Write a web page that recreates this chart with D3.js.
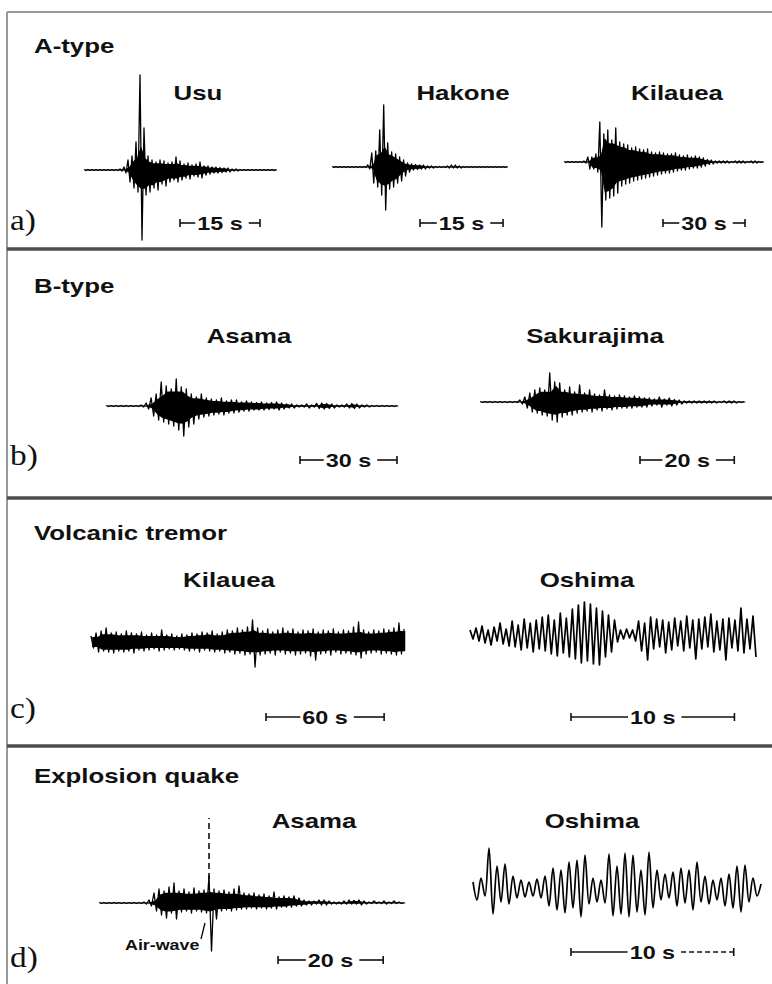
<!DOCTYPE html>
<html>
<head>
<meta charset="utf-8">
<script src="https://cdn.jsdelivr.net/npm/d3@7"></script>
<style>
  body { margin: 0; background: #fff; }
  text { font-family: "Liberation Sans", Arial, sans-serif; fill: #111; }
</style>
</head>
<body>
<div id="chart"></div>
<script>
// ---- data ----
var panelTitles = ["A-type", "B-type", "Volcanic tremor", "Explosion quake"];
var panelLetters = ["a)", "b)", "c)", "d)"];
var stations = ["Usu", "Hakone", "Kilauea", "Asama", "Sakurajima", "Kilauea", "Oshima", "Asama", "Oshima"];
var recordSeconds = [36, 31.6, 72.8, 90, 56, 159, 17.5, 58, 17.7];
var barSeconds = [15, 15, 30, 30, 20, 60, 10, 20, 10];
var barLabels = ["15 s", "15 s", "30 s", "30 s", "20 s", "60 s", "10 s", "20 s", "10 s"];

// envelope amplitudes (up / down) at even time steps
var usuUp = [.5,.5,.5,.5,.5,.5,.5,.5,.5,1,3,10,14,28,95,42,14,10,8,10,9,7,8,13,9,6,7,5,6,8,4,4,3,3,2.5,2,2,1,1,.5,.5,.5,.5,.5,.5,.5,.5,.5,.5];
var usuDown = [.5,.5,.5,.5,.5,.5,.5,.5,.5,1,3,12,18,22,70,25,22,18,20,14,16,12,10,12,10,8,9,6,7,8,5,4,3,3,2.5,2,2,1,1,.5,.5,.5,.5,.5,.5,.5,.5,.5,.5];

var hakoneUp = [.5,.5,.5,.5,.5,.5,.5,.5,.5,2,14,16,37,62,24,15,13,10,7,4,3,2.5,2,2,1,1,.5,.5,.5,1,2,2,1,.5,.5,.5,.5,.5,.5,.5,.5,.5,.5,.5,.5];
var hakoneDown = [.5,.5,.5,.5,.5,.5,.5,.5,.5,2,16,20,28,43,22,20,16,14,9,5,3,2.5,2,2,1,1,.5,.5,.5,1,1,1,1,.5,.5,.5,.5,.5,.5,.5,.5,.5,.5,.5,.5];

var kilaueaAUp = [.5,.5,.5,.5,.5,1,5,5,8,40,28,32,22,34,20,18,17,14,15,13,12,13,10,9,10,9,8,8,9,7,6,7,5,6,5,4,2.5,2,1,1,1,1,.5,1,1,1,.5,1,1,.5,.5];
var kilaueaADown = [.5,.5,.5,.5,.5,1,7,7,10,65,38,36,34,31,24,22,21,19,18,17,16,15,14,13,12,11,11,10,9,8,8,7,6,6,5,4,2.5,2,1,1,1,1,.5,1,1,1,.5,1,1,.5,.5];

var asamaBUp = [.5,.5,.5,.5,.5,.5,.5,1,3,8,12,24,20,17,27,19,17,12,9,12,8,7,6,8,5,6,6,4,5,4,3.5,4,3,3.5,4,3,2,2,1,1,2,1,2.5,3,2.5,2,1,1,2,2.5,2,1,1,.5,.5,.5,.5,.5,.5];
var asamaBDown = [.5,.5,.5,.5,.5,.5,.5,1,3,10,14,16,18,20,24,30,21,18,13,11,10,9,8,9,7,7,6,5,5,4,4,4,3.5,3,4,3,2,2,1,1,2,1,2.5,3,2.5,2,1,1,2,2.5,2,1,1,.5,.5,.5,.5,.5,.5];

var sakuraUp = [.5,.5,.5,.5,.5,.5,.5,.5,2,5,9,12,14,12,29,20,19,12,15,10,17,9,12,8,7,12,7,6,7,6,5,6,5,4,4,3,5,3,4,2.5,2,1,1,1,1,1,1,1,.5,1,1,1,.5,.5];
var sakuraDown = [.5,.5,.5,.5,.5,.5,.5,.5,2,6,10,11,13,14,18,20,15,13,13,11,10,9,10,8,9,7,8,7,6,6,6,5,5,5,4,3,5,3,4,3,2,1,1,1,1,1,1,1,.5,1,1,1,.5,.5];

var tremorUp = [6,9,11,14,9,10,8,11,9,8,10,7,9,7,12,7,8,6,8,7,9,8,10,9,11,8,10,12,11,14,12,15,22,14,11,13,10,12,14,11,13,10,12,11,13,10,12,11,13,10,12,11,15,20,12,10,12,11,13,12,14,19,13];
var tremorDown = [6,10,9,10,11,9,10,9,11,8,9,8,7,9,8,7,8,7,8,9,8,10,8,9,10,9,11,10,12,11,13,12,25,13,12,11,13,10,12,11,13,12,11,14,18,12,11,13,10,12,11,12,13,16,12,11,10,12,11,12,13,12,11];

var asamaDUp = [.5,.5,.5,.5,.5,.5,.5,.5,.5,1,3,10,14,12,16,20,12,14,11,15,12,13,27,14,12,13,11,14,17,10,9,10,8,9,7,11,6,7,6,7,5,3,2,2,3,3,2,1,1,2,3,2.5,3,2,1,2,1,2,1,2,1,.5];
var asamaDDown = [.5,.5,.5,.5,.5,.5,.5,.5,.5,1,3,8,12,15,10,16,9,8,10,8,9,10,48,16,8,7,8,7,6,6,5,6,5,6,5,6,4,4,4,3,3,2,2,1,2,2,1,1,1,1,1,1,2,1,.5,.5,.5,1,.5,.5,.5,.5];
var asamaAirSpike = 85;

// successive peaks of the clearly resolved Oshima records
var oshimaTremor = [5,-4,7,-6,9,-8,5,-10,8,-6, 12,-9,6,-11,
  14,-12,10,-15,16,-13,12,-17,15,-14, 18,-16,20,-19,15,-21,22,-18,17,-22,
  26,-24,30,-28,33,-26,31,-29,27,-30,24, -22,20,-17,15, -7,5,-4,6,-3,5,-6,
  14,-16,12,-25,18,-14,16,-12,15,-18, 13,-15,17,-11,14,-16,19,-13,15,-24,
  16,-14,18,-12,21,-17,14,-15,16,-25, 17,-13,15,-16,27,-18,16,-14,19,-22];
var oshimaQuake = [6,-12,10,-8,40,-26,22,-14,24,-16,12,-10,8,-9,6,-8,9,-10,12,-18,
  20,-22,18,-25,26,-20,28,-29,33,-16,10,-14,8,-15,34,-28,22,-26,35,-29,
  33,-24,18,-27,36,-20,18,-12,14,-10,16,-18,20,-15,18,-22,26,-14,12,-16,
  8,-12,10,-18,14,-20,22,-24,23,-14,10,-8,4];

// ---- layout ----
var W = 772, H = 984;
var frameX = 7, frameY = 12;
var separators = [249, 498, 746];
var titleY = [53, 293, 540, 783];
var letterY = [230, 465, 718, 967];

var traces = [
  {up: usuUp, down: usuDown, x0: 84, x1: 276, base: 170, lx: 198, ly: 100, bx: 180, by: 223},
  {up: hakoneUp, down: hakoneDown, x0: 332, x1: 507, base: 167, lx: 463, ly: 100, bx: 420, by: 223},
  {up: kilaueaAUp, down: kilaueaADown, x0: 564, x1: 763, base: 162, lx: 677, ly: 100, bx: 663, by: 223},
  {up: asamaBUp, down: asamaBDown, x0: 106, x1: 397, base: 406, lx: 249, ly: 343, bx: 300, by: 460},
  {up: sakuraUp, down: sakuraDown, x0: 480, x1: 744, base: 402, lx: 595, ly: 343, bx: 640, by: 460},
  {up: tremorUp, down: tremorDown, x0: 91, x1: 404, base: 642, lx: 229, ly: 587, bx: 266, by: 717},
  {peaks: oshimaTremor, x0: 470, x1: 756, base: 635, lx: 587, ly: 587, bx: 571, by: 717, width: 1.7},
  {up: asamaDUp, down: asamaDDown, x0: 99, x1: 404, base: 903, lx: 314, ly: 828, bx: 278, by: 960},
  {peaks: oshimaQuake, x0: 473, x1: 761, base: 888, lx: 592, ly: 828, bx: 571, by: 952, width: 1.7,
   smooth: true, dashedEnd: true}
];
var stretch = 1.23;

var svg = d3.select("#chart").append("svg")
  .attr("width", W)
  .attr("height", H);

// frame and panel separators
svg.append("line").attr("x1", frameX).attr("x2", W).attr("y1", frameY).attr("y2", frameY)
  .attr("stroke", "#999").attr("stroke-width", 2);
svg.append("line").attr("x1", frameX).attr("x2", frameX).attr("y1", frameY).attr("y2", H)
  .attr("stroke", "#999").attr("stroke-width", 2);
svg.selectAll(".sep").data(separators).enter().append("line")
  .attr("x1", frameX).attr("x2", W)
  .attr("y1", d => d).attr("y2", d => d)
  .attr("stroke", "#4d4d4d").attr("stroke-width", 3.5);

function wideText(x, y, str, size, anchor) {
  return svg.append("text")
    .attr("transform", "translate(" + x + "," + y + ") scale(" + stretch + ",1)")
    .style("font-size", size + "px")
    .style("font-weight", "bold")
    .style("text-anchor", anchor || "start")
    .text(str);
}

panelTitles.forEach((t, i) => wideText(34, titleY[i], t, 21));

svg.selectAll(".letter").data(panelLetters).enter().append("text")
  .attr("transform", (d, i) => "translate(10," + letterY[i] + ") scale(1.15,1)")
  .style("font-family", "'Liberation Serif', 'Times New Roman', serif")
  .style("font-size", "29px")
  .text(d => d);

traces.forEach((tr, k) => {
  var x = d3.scaleLinear().domain([0, recordSeconds[k]]).range([tr.x0, tr.x1]);
  var y = d3.scaleLinear().domain([-1, 1]).range([tr.base + 1, tr.base - 1]);
  var pts = [];
  var line = d3.line().curve(tr.smooth ? d3.curveCatmullRom.alpha(0.5) : d3.curveLinear);
  if (tr.peaks) {
    var step = recordSeconds[k] / (tr.peaks.length - 1);
    tr.peaks.forEach((v, i) => pts.push([x(i * step), y(v)]));
  } else {
    var n = tr.up.length, dt = recordSeconds[k] / (n - 1);
    tr.up.forEach((u, i) => {
      pts.push([x(i * dt), y(u)]);
      if (i < n - 1) pts.push([x(i * dt + dt / 2), y(-tr.down[i])]);
    });
    // solid core of the dense record, kept inside neighbouring peaks
    var core = tr.up.map((u, i) => {
      var a = Math.max(0, i - 1), b = Math.min(n, i + 2);
      return {t: i * dt + dt / 4, hi: d3.min(tr.up.slice(a, b)), lo: d3.min(tr.down.slice(a, b))};
    });
    svg.append("path")
      .attr("d", d3.area().x(d => x(d.t)).y0(d => y(-d.lo * 0.85)).y1(d => y(d.hi * 0.85))(core))
      .attr("fill", "#000");
  }
  svg.append("path")
    .attr("d", line(pts))
    .attr("fill", "none")
    .attr("stroke", "#000")
    .attr("stroke-width", tr.width || 1.3)
    .attr("stroke-linejoin", "round");

  // station name
  wideText(tr.lx, tr.ly, stations[k], 21, "middle");

  // time scale bar
  var bx0 = tr.bx, bx1 = tr.bx + (x(barSeconds[k]) - x(0));
  var g = svg.append("g").attr("stroke", "#111").attr("stroke-width", 1.6);
  var lbl = wideText((bx0 + bx1) / 2, tr.by + 7, barLabels[k], 19, "middle");
  var tw = lbl.node().getComputedTextLength() * stretch;
  var tl = (bx0 + bx1) / 2 - tw / 2, trr = (bx0 + bx1) / 2 + tw / 2;
  g.append("line").attr("x1", bx0).attr("x2", bx0).attr("y1", tr.by - 4).attr("y2", tr.by + 4);
  g.append("line").attr("x1", bx1).attr("x2", bx1).attr("y1", tr.by - 4).attr("y2", tr.by + 4);
  g.append("line").attr("x1", bx0).attr("x2", tl - 2).attr("y1", tr.by).attr("y2", tr.by);
  g.append("line").attr("x1", trr + 6).attr("x2", bx1).attr("y1", tr.by).attr("y2", tr.by)
    .attr("stroke-dasharray", tr.dashedEnd ? "5,3" : null);

  // air-wave arrival on the Asama explosion record
  if (k === 7) {
    var iSpike = tr.down.indexOf(d3.max(tr.down));
    var ta = iSpike * dt;
    svg.append("line")
      .attr("x1", x(ta)).attr("x2", x(ta))
      .attr("y1", y(4)).attr("y2", y(asamaAirSpike))
      .attr("stroke", "#000").attr("stroke-width", 1.5)
      .attr("stroke-dasharray", "6,4");
    wideText(x(ta) - 84, tr.base + 47, "Air-wave", 14.5);
    svg.append("line")
      .attr("x1", x(ta) - 8).attr("x2", x(ta) - 4)
      .attr("y1", tr.base + 36).attr("y2", tr.base + 20)
      .attr("stroke", "#000").attr("stroke-width", 1.3);
  }
});
</script>
</body>
</html>
